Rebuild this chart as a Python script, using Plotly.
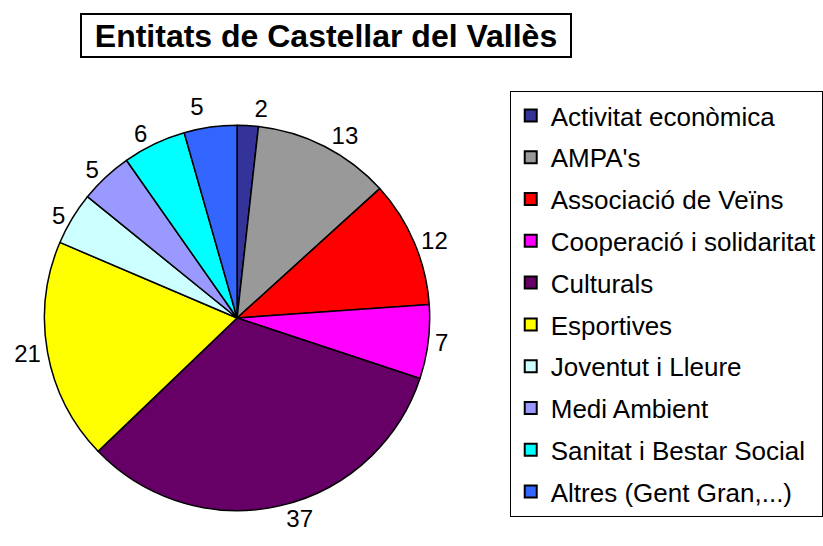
import plotly.graph_objects as go

categories = [
    "Activitat econòmica",
    "AMPA's",
    "Associació de Veïns",
    "Cooperació i solidaritat",
    "Culturals",
    "Esportives",
    "Joventut i Lleure",
    "Medi Ambient",
    "Sanitat i Bestar Social",
    "Altres (Gent Gran,...)",
]
values = [2, 13, 12, 7, 37, 21, 5, 5, 6, 5]
colors = ["#333399", "#999999", "#FF0000", "#FF00FF", "#660066",
          "#FFFF00", "#CCFFFF", "#9999FF", "#00FFFF", "#3366FF"]
title_text = "Entitats de Castellar del Vallès"

W, H = 823, 546
FONT = "Liberation Sans, Arial, sans-serif"

fig = go.Figure()
fig.add_trace(go.Pie(
    labels=categories, values=values, sort=False, direction="clockwise", rotation=0,
    marker=dict(colors=colors, line=dict(color="black", width=1.5)),
    textinfo="value", textposition="outside",
    textfont=dict(family=FONT, size=24, color="black"),
    domain=dict(x=[45 / W, 435 / W], y=[1 - 513 / H, 1 - 123 / H]),
    showlegend=False, automargin=False, hoverinfo="label+value",
))
for c, col in zip(categories, colors):
    fig.add_trace(go.Scatter(
        x=[None], y=[None], mode="markers", name=c, legendgroup=c,
        marker=dict(symbol="square", size=13, color=col, line=dict(color="black", width=1.5)),
    ))

fig.update_layout(
    width=W, height=H, margin=dict(l=0, r=0, t=0, b=0),
    paper_bgcolor="white", plot_bgcolor="white",
    xaxis=dict(visible=False), yaxis=dict(visible=False),
    legend=dict(x=516 / W, y=1 - 91 / H, xanchor="left", yanchor="top",
                bordercolor="black", borderwidth=1, bgcolor="white",
                font=dict(size=26, family=FONT, color="black"),
                tracegroupgap=5, itemsizing="constant"),
    annotations=[dict(
        text="<b>" + title_text + "</b>", x=330 / W, y=1 - 35 / H, xref="paper", yref="paper",
        xanchor="center", yanchor="middle", showarrow=False,
        font=dict(size=32, family=FONT, color="black"),
        bordercolor="black", borderwidth=2, borderpad=0, width=488, height=41, bgcolor="white",
    )],
)
post = ("document.body.style.margin='0';"
        "document.querySelectorAll('path.textline').forEach(function(e){e.style.display='none';});")
fig.write_html("out.html", post_script=post, config={"displayModeBar": False})
